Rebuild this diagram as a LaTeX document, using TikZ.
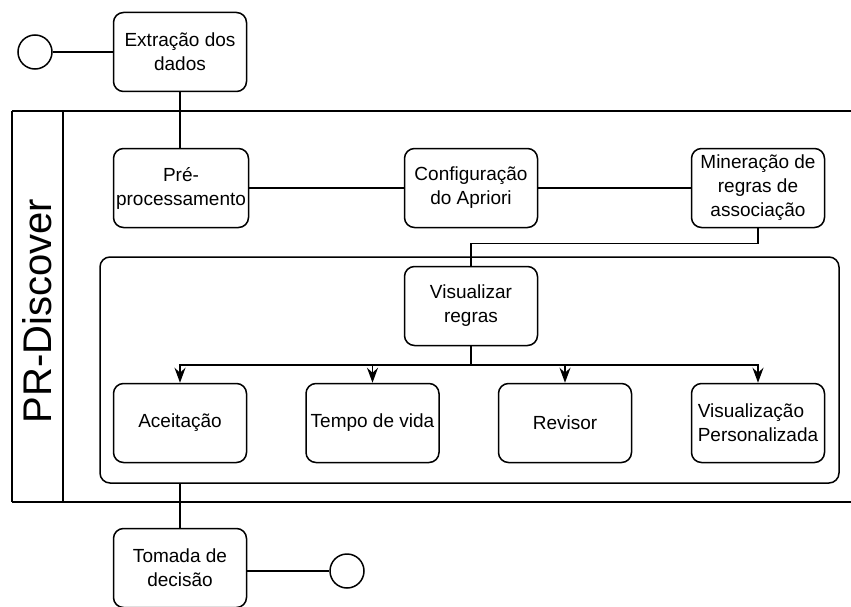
\documentclass[tikz,border=0pt]{standalone}
\usepackage{fontspec}
\setmainfont{Liberation Sans}
\usetikzlibrary{arrows.meta}
\tikzset{
  task/.style={draw, line width=1.5pt, rounded corners=10pt, minimum width=133pt,
    minimum height=79pt, inner sep=2pt, align=center,
    font=\fontsize{19}{24}\selectfont},
  event/.style={draw, line width=1.5pt, circle, minimum size=34pt, inner sep=0pt},
  flow/.style={line width=1.5pt},
  branch/.style={line width=1.5pt, -{Stealth[length=15pt,width=11pt,inset=5pt]}}
}
\begin{document}
\begin{tikzpicture}[x=1pt, y=-1pt]
\useasboundingbox (0,0) rectangle (851,607);
\clip (0,0) rectangle (851,607);

% pool with its lane header
\draw[line width=1.5pt] (12,111) -- (870,111);
\draw[line width=1.5pt] (12,502) -- (870,502);
\draw[line width=1.5pt] (12,111) -- (12,502);
\draw[line width=1.5pt] (63,111) -- (63,502);
\node[rotate=90, font=\fontsize{40}{44}\selectfont] (lane) at (37,311) {PR-Discover};

% inner sub-process container
\node[draw, line width=1.5pt, rounded corners=10pt, minimum width=739pt,
  minimum height=226pt, inner sep=0pt] (inner) at (469.5,370) {};

% events
\node[event] (start) at (35,52) {};
\node[event] (end) at (347,571) {};

% tasks
\node[task] (ext) at (180,52) {Extração dos\\dados};
\node[task, minimum width=135pt] (pre) at (181,188) {Pré-\\processamento};
\node[task] (conf) at (471,188) {Configuração\\do Apriori};
\node[task] (mine) at (758,188) {Mineração de\\regras de\\associação};
\node[task] (vis) at (471,306) {Visualizar\\regras};
\node[task] (ace) at (180,423) {Aceitação};
\node[task] (tempo) at (372.5,423) {Tempo de vida};
\node[task] (rev) at (565,423) {Revisor};
\node[task, align=left] (pers) at (758,423) {Visualização\\Personalizada};
\node[task] (tom) at (180,568) {Tomada de\\decisão};

% sequence flows
\draw[flow] (start.east) -- (start.east -| ext.west);
\draw[flow] (ext.south) -- (ext.south |- pre.north);
\draw[flow] (pre) -- (conf);
\draw[flow] (conf) -- (mine);
\draw[flow] (mine.south) -- ++(0,15) coordinate (bend) -| (vis.north);
\coordinate (bus) at (471,365);
\draw[flow] (vis.south) -- (bus);
\draw[branch] (bus) -| (ace.north);
\draw[branch] (bus) -| (tempo.north);
\draw[branch] (bus) -| (rev.north);
\draw[branch] (bus) -| (pers.north);
\draw[flow] (inner.south -| tom.north) -- (tom.north);
\draw[flow] (end.west -| tom.east) -- (end.west);
\end{tikzpicture}
\end{document}
